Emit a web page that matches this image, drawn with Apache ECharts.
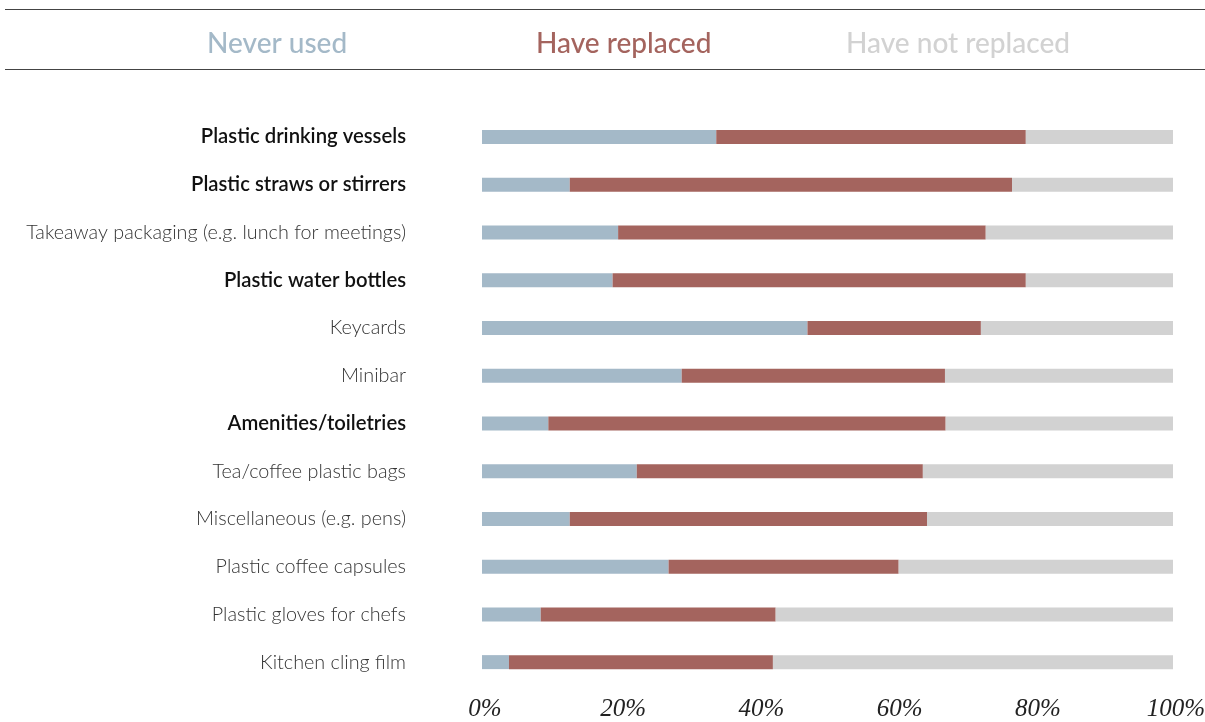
<!DOCTYPE html>
<html><head><meta charset="utf-8">
<script src="https://cdn.jsdelivr.net/npm/echarts@6/dist/echarts.min.js"></script>
<style>html,body{margin:0;padding:0;background:#fff}#c{width:1205px;height:722px}</style>
</head><body><div id="c"></div>
<script>
const categories = ["Plastic drinking vessels","Plastic straws or stirrers","Takeaway packaging (e.g. lunch for meetings)","Plastic water bottles","Keycards","Minibar","Amenities/toiletries","Tea/coffee plastic bags","Miscellaneous (e.g. pens)","Plastic coffee capsules","Plastic gloves for chefs","Kitchen cling film"];
const boldCategories = ["Plastic drinking vessels","Plastic straws or stirrers","Plastic water bottles","Amenities/toiletries"];
const neverUsed = [33.9,12.7,19.7,18.9,47.1,28.9,9.6,22.4,12.7,27.0,8.5,3.9];
const haveReplaced = [44.8,64.0,53.2,59.8,25.1,38.1,57.5,41.4,51.7,33.3,34.0,38.2];
const haveNotReplaced = [21.3,23.3,27.1,21.3,27.8,33.0,32.9,36.2,35.6,39.7,57.5,57.9];
const tickLabels = ["0%","20%","40%","60%","80%","100%"];
const seriesNames = ["Never used","Have replaced","Have not replaced"];
const colors = ["#a4b9c8","#a4645e","#d2d2d2"];

const chart = echarts.init(document.getElementById('c'));
const legendPos = [202, 531, 841];
chart.setOption({
  animation:false,
  color: colors,
  legend: seriesNames.map((n,i)=>({
    top: 25, left: legendPos[i], itemWidth:0, itemHeight:0, icon:'none', itemGap:0,
    selectedMode:false,
    data:[{name:n, textStyle:{color:colors[i]}}],
    textStyle:{fontFamily:'Lato', fontSize:28, fontWeight:500, padding:[0,0,0,-5]}
  })),
  graphic:[
    {type:'line', shape:{x1:5,y1:9.5,x2:1205,y2:9.5}, style:{stroke:'#444',lineWidth:1}},
    {type:'line', shape:{x1:5,y1:69.5,x2:1205,y2:69.5}, style:{stroke:'#444',lineWidth:1}}
  ],
  grid:{left:482, right:32, top:113, height:573, outerBoundsMode:'none', containLabel:false},
  xAxis:{type:'value', min:0, max:100, interval:20,
    splitLine:{show:false}, axisLine:{show:false}, axisTick:{show:false},
    axisLabel:{margin:11, formatter:(v)=>tickLabels[v/20], fontFamily:'Liberation Serif', fontStyle:'italic', fontSize:25, color:'#222', padding:[0,0,0,6]}},
  yAxis:{type:'category', inverse:true, data:categories,
    axisLine:{show:false}, axisTick:{show:false},
    axisLabel:{margin:76, formatter:(v)=> boldCategories.includes(v) ? '{b|'+v+'}' : '{n|'+v+'}',
      rich:{b:{fontFamily:'Lato', fontSize:20.3, fontWeight:600, color:'#111'},
            n:{fontFamily:'Lato', fontSize:19.8, fontWeight:300, color:'#333'}}}},
  series:[
    {name:seriesNames[0], type:'bar', stack:'a', barWidth:14, data:neverUsed},
    {name:seriesNames[1], type:'bar', stack:'a', barWidth:14, data:haveReplaced},
    {name:seriesNames[2], type:'bar', stack:'a', barWidth:14, data:haveNotReplaced}
  ]
});
</script></body></html>
